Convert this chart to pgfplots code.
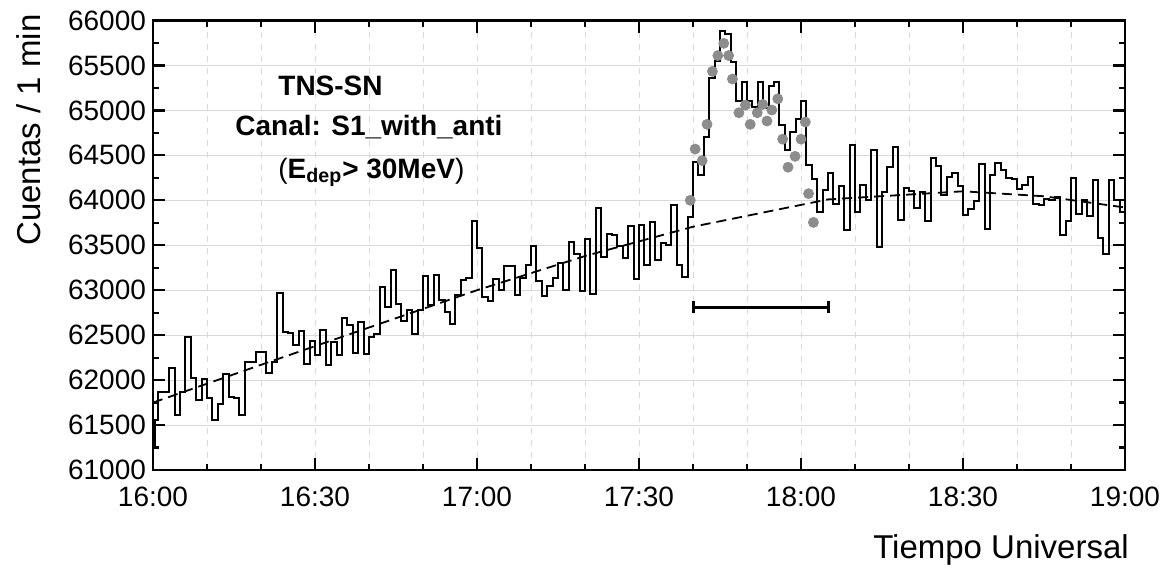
\documentclass[border=0pt]{standalone}
\usepackage{fontspec}
\setmainfont{Liberation Sans}
\usepackage{pgfplots}
\usepackage{pgfplotstable}
\pgfplotsset{compat=1.18}
\definecolor{dotgray}{RGB}{140,140,140}
\pgfplotstableread{
m v
0 61260
0.4 61557
1 61864
2 61870
3 62130
4 61612
5 61872
6 62482
7 62027
8 61779
9 62008
10 61797
11 61557
12 61731
13 62064
14 61816
15 61797
16 61612
17 62197
18 62197
19 62315
20 62315
21 62079
22 62197
23 62967
24 62537
25 62519
26 62390
27 62545
28 62179
29 62438
30 62278
31 62552
32 62167
33 62426
34 62278
35 62686
36 62611
37 62297
38 62648
39 62286
40 62482
41 62511
42 63037
43 62808
44 63222
45 62850
46 62656
47 62785
48 62508
49 62785
50 63155
51 62841
52 63174
53 62896
54 62760
55 62619
56 62952
57 63118
58 63137
59 63766
60 63465
61 62930
62 62876
63 63125
64 63005
65 63270
66 63266
67 62950
68 63140
69 63280
70 63495
71 63105
72 62940
73 63050
74 63137
75 63303
76 63000
77 63536
78 63400
79 62995
80 63575
81 62955
82 63918
83 63373
84 63620
85 63610
86 63495
87 63355
88 63717
89 63124
90 63720
91 63283
92 63754
93 63338
94 63522
95 63504
96 63952
97 63283
98 63143
99 63816
100 64430
101 64276
102 64709
103 65360
104 65555
105 65882
106 65849
107 65533
108 65103
109 65316
110 65103
111 65040
112 65312
113 65029
114 65268
115 65316
116 64834
117 64562
118 64761
119 64900
120 65103
121 64390
122 64240
123 63871
124 64115
125 64305
126 63958
127 64162
128 63668
129 64620
130 63875
131 64175
132 64000
133 64563
134 63483
135 64090
136 64374
137 64592
138 63784
139 64137
140 64105
141 63911
142 64089
143 63769
144 64470
145 64385
146 64055
147 64259
148 64300
149 64157
150 63834
151 63908
152 63989
153 64407
154 63686
155 64278
156 64418
157 64333
158 64248
159 64233
160 64130
161 64167
162 64259
163 63963
164 63952
165 64019
166 64000
167 64037
168 63612
169 63767
170 64248
171 63852
172 64007
173 63826
174 64222
175 63586
176 63408
177 64229
178 64000
179 63870
180 63870
}\counts
\pgfplotstableread{
m v
99.5 64000
100.4 64570
101.7 64441
102.6 64845
103.6 65434
104.6 65610
105.7 65746
106.6 65610
107.3 65349
108.5 64974
109.7 65059
110.6 64845
111.9 64974
112.9 65066
113.7 64882
114.6 65004
115.7 65129
116.6 64680
117.6 64368
118.9 64489
120.0 64680
120.8 64871
121.4 64074
122.3 63754
}\dots
\pgfplotstableread{
m v
0 61750
20 62170
40 62585
60 63000
80 63380
100 63706
125 64010
150 64100
165 64045
180 63920
}\trend
\begin{document}
\begin{tikzpicture}
\begin{axis}[
  at={(0,0)}, anchor=south west,
  scale only axis, width=486pt, height=224.75pt,
  xmin=0, xmax=180, ymin=61000, ymax=66000,
  scaled y ticks=false,
  xtick={0,30,...,180},
  xticklabels={16:00,16:30,17:00,17:30,18:00,18:30,19:00},
  minor xtick={10,20,40,50,70,80,100,110,130,140,160,170},
  ytick={61000,61500,...,66000},
  minor ytick={61250,61750,...,65750},
  xtick pos=both, ytick pos=both,
  tick align=inside, major tick length=6pt, minor tick length=3pt,
  every tick/.append style={black, line width=1.1pt},
  axis line style={line width=1.3pt},
  ymajorgrids, xmajorgrids, xminorgrids,
  major y grid style={gray!30, line width=0.5pt},
  major x grid style={gray!30, dashed, line width=0.5pt},
  minor x grid style={gray!30, dashed, line width=0.5pt},
  tick label style={font=\fontsize{14}{16}\selectfont},
  xticklabel style={yshift=-5pt},
  yticklabel={\pgfmathprintnumber[fixed, precision=0, 1000 sep={}, assume math mode=true]{\tick}},
]
\addplot[black, line width=1pt, const plot mark left] table[x=m, y=v] {\counts};
\addplot[black, line width=0.9pt, dash pattern=on 5pt off 3pt] table[x=m, y=v] {\trend};
\addplot[only marks, mark=*, mark size=2.5pt, color=dotgray, mark options={draw=dotgray, fill=dotgray}] table[x=m, y=v] {\dots};
\addplot[black, line width=1.5pt, mark=|, mark size=3pt, mark options={line width=1.5pt}] coordinates {(100,62810) (125,62810)};
\end{axis}
\node[anchor=base west, inner sep=0, font=\bfseries\fontsize{14}{16}\selectfont] at (62.5pt,187.5pt) {TNS-SN};
\node[anchor=base west, inner sep=0, font=\bfseries\fontsize{14}{16}\selectfont] at (41pt,167.5pt) {Canal: S1\_with\_anti};
\node[anchor=base west, inner sep=0, font=\bfseries\fontsize{14}{16}\selectfont] at (62.5pt,146pt) {{\mdseries(}E\textsubscript{dep}> 30MeV{\mdseries)}};
\node[font=\fontsize{16.5}{18}\selectfont, rotate=90, anchor=center] at (-62pt,170pt) {Cuentas / 1 min};
\node[font=\fontsize{16.5}{18}\selectfont, anchor=center] at (424pt,-40pt) {Tiempo Universal};
\pgfresetboundingbox
\path (-76.5pt,-49.5pt) rectangle (506pt,235pt);
\end{tikzpicture}
\end{document}
